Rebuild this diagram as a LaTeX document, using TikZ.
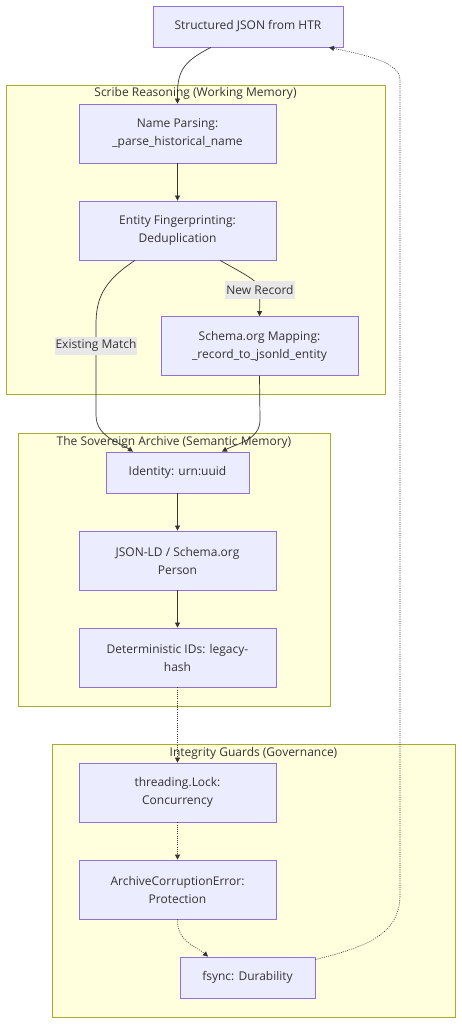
\documentclass[tikz,border=0pt]{standalone}
\usepackage{fontspec}
\setmainfont{Open Sans}
\usetikzlibrary{arrows.meta}
\definecolor{nodefill}{HTML}{ECECFF}
\definecolor{nodeline}{HTML}{9370DB}
\definecolor{clfill}{HTML}{FFFFDE}
\definecolor{clline}{HTML}{AAAA33}
\definecolor{edge}{HTML}{333333}
\definecolor{lblbg}{HTML}{E8E8E8}
\tikzset{
  box/.style={draw=nodeline, fill=nodefill, line width=0.8pt, minimum width=197pt, minimum height=59pt, align=center, text=edge, font=\fontsize{12}{18}\selectfont, inner sep=0pt},
  smallbox/.style={box, minimum height=41pt},
  cluster/.style={draw=clline, fill=clfill, line width=0.8pt},
  cltitle/.style={text=edge, font=\fontsize{12}{14}\selectfont, inner sep=0pt},
  lbl/.style={fill=lblbg, text=edge, font=\fontsize{12}{14}\selectfont, inner sep=1pt, minimum height=18pt},
  conn/.style={draw=edge, line width=0.7pt, -{Triangle[length=5pt,width=5pt]}},
  dconn/.style={conn, dash pattern=on 1pt off 1.2pt, line width=0.6pt},
}
\begin{document}
\begin{tikzpicture}[x=1pt, y=-1pt]
\useasboundingbox (0,0) rectangle (461,1024);
% clusters
\node[cluster, minimum width=379pt, minimum height=309pt, inner sep=0pt] (c1) at (195.5,239.5) {};
\node[cltitle] (t1) at (195.5,93) {Scribe Reasoning (Working Memory)};
\node[cluster, minimum width=312pt, minimum height=273pt, inner sep=0pt] (c2) at (174,569.5) {};
\node[cltitle] (t2) at (174,442) {The Sovereign Archive (Semantic Memory)};
\node[cluster, minimum width=403pt, minimum height=273pt, inner sep=0pt] (c3) at (253.5,880.5) {};
\node[cltitle] (t3) at (253.5,753) {Integrity Guards (Governance)};
% nodes
\node[smallbox, minimum width=190pt] (top) at (248,26.5) {Structured JSON from HTR};
\node[box] (name) at (177.5,133.5) {Name Parsing:\\\_parse\_historical\_name};
\node[box] (fp) at (177.5,230.5) {Entity Fingerprinting:\\Deduplication};
\node[box] (schema) at (259.5,346) {Schema.org Mapping:\\\_record\_to\_jsonld\_entity};
\node[smallbox, minimum width=143pt] (ident) at (177.5,472.5) {Identity: urn:uuid};
\node[box] (jsonld) at (177.5,560.5) {JSON-LD / Schema.org\\Person};
\node[box] (det) at (177.5,657.5) {Deterministic IDs: legacy-\\hash};
\node[box] (lock) at (177.5,792.5) {threading.Lock:\\Concurrency};
\node[box] (ace) at (177.5,889.5) {ArchiveCorruptionError:\\Protection};
\node[smallbox, minimum width=135pt] (fsync) at (247.5,977.5) {fsync: Durability};
% edges
\draw[conn] ([xshift=-37pt]top.south) .. controls (182,62) and (177,72) .. (name.north);
\draw[conn] (name) -- (fp);
\draw[conn] ([xshift=-42.5pt]fp.south) .. controls (102,282) and (96,300) .. (96,325)
   -- node[lbl, pos=0.23] (lem) {Existing Match} (96,415)
   .. controls (96,436) and (118,442) .. ([xshift=-44.5pt]ident.north);
\draw[conn] ([xshift=42.5pt]fp.south) .. controls (248,276) and (260,282) .. (260,290)
   node[lbl] (lnr) {New Record} -- (schema.north);
\draw[conn] (schema.south) -- (260,420) .. controls (260,440) and (236,444) .. ([xshift=44.5pt]ident.north);
\draw[conn] (ident) -- (jsonld);
\draw[conn] (jsonld) -- (det);
\draw[dconn] (det) -- (lock);
\draw[dconn] (lock) -- (ace);
\draw[dconn] (ace.south) .. controls (177,942) and (196,946) .. ([xshift=-39.5pt]fsync.north);
\draw[dconn] ([yshift=-3pt]fsync.north east) .. controls (365,947) and (400,935) .. (400,895)
   -- (400,80) .. controls (400,62) and (365,55) .. ([xshift=81pt]top.south);
\end{tikzpicture}
\end{document}
